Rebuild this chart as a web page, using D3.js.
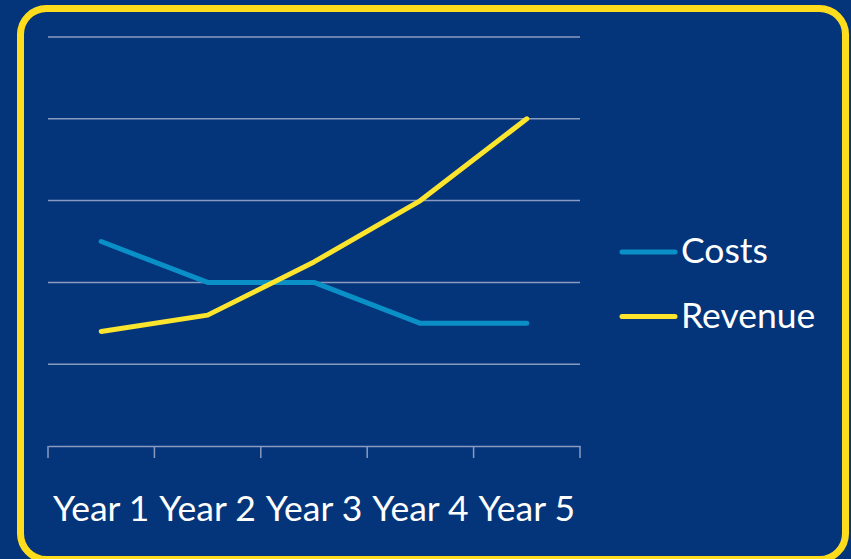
<!DOCTYPE html>
<html>
<head>
<meta charset="utf-8">
<script src="https://cdn.jsdelivr.net/npm/d3@7"></script>
<style>
  html, body { margin: 0; padding: 0; background: #04357a; }
  svg text { font-family: Lato, "Open Sans", sans-serif; fill: #fff; }
</style>
</head>
<body>
<div class="chart"></div>
<script>
const w = 851;
const h = 559;

const years = ["Year 1", "Year 2", "Year 3", "Year 4", "Year 5"];
const costs = [2.5, 2, 2, 1.5, 1.5];
const revenue = [1.4, 1.6, 2.25, 3, 4];
const gridTicks = [1, 2, 3, 4, 5];
const seriesNames = ["Costs", "Revenue"];
const seriesColors = ["#0a8fc6", "#fde52e"];

const svg = d3.select(".chart").append("svg").attr("width", w).attr("height", h);

svg.append("rect")
  .attr("width", w).attr("height", h)
  .attr("fill", "#04357a");

// yellow rounded frame
svg.append("rect")
  .attr("x", 20.5).attr("y", 8.5)
  .attr("width", 825).attr("height", 551)
  .attr("rx", 26)
  .attr("fill", "none")
  .attr("stroke", "#ffdd1c")
  .attr("stroke-width", 7);

const xScale = d3.scaleBand().domain(years).range([48, 580]);
const yScale = d3.scaleLinear().domain([0, 5]).range([446, 37]);

svg.append("g")
  .selectAll("line")
  .data(gridTicks)
  .enter()
  .append("line")
  .attr("x1", 48).attr("x2", 580)
  .attr("y1", d => yScale(d)).attr("y2", d => yScale(d))
  .attr("stroke", "#8a9bc2")
  .attr("stroke-width", 1.5);

const xAxis = d3.axisBottom(xScale).tickSize(0).tickPadding(0).tickFormat("");
const gx = svg.append("g")
  .attr("transform", "translate(0," + yScale(0) + ")")
  .call(xAxis);
gx.select(".domain").attr("stroke", "#8a9bc2").attr("stroke-width", 1.5);

// ticks at category boundaries
const bounds = years.map(d => xScale(d)).concat([xScale.range()[1]]);
gx.selectAll(".bound")
  .data(bounds)
  .enter()
  .append("line")
  .attr("x1", d => d).attr("x2", d => d)
  .attr("y1", 0).attr("y2", 12)
  .attr("stroke", "#8a9bc2")
  .attr("stroke-width", 1.5);

gx.selectAll(".lbl")
  .data(years)
  .enter()
  .append("text")
  .attr("x", d => xScale(d) + xScale.bandwidth() / 2)
  .attr("y", 75)
  .attr("text-anchor", "middle")
  .style("font-size", "35.5px")
  .text(d => d);

const cx = d => xScale(d) + xScale.bandwidth() / 2;
const line = d3.line()
  .x((d, i) => cx(years[i]))
  .y(d => yScale(d));

[costs, revenue].forEach((s, k) => {
  svg.append("path")
    .datum(s)
    .attr("d", line)
    .attr("fill", "none")
    .attr("stroke", seriesColors[k])
    .attr("stroke-width", 5)
    .attr("stroke-linecap", "round")
    .attr("stroke-linejoin", "round");
});

// legend
const legend = svg.append("g")
  .selectAll("g")
  .data(seriesNames)
  .enter()
  .append("g")
  .attr("transform", (d, i) => "translate(620," + (252 + i * 64.5) + ")");

legend.append("line")
  .attr("x1", 2).attr("x2", 55)
  .attr("stroke", (d, i) => seriesColors[i])
  .attr("stroke-width", 5)
  .attr("stroke-linecap", "round");

legend.append("text")
  .attr("x", 61)
  .attr("y", 11)
  .style("font-size", "35.5px")
  .text(d => d);
</script>
</body>
</html>
